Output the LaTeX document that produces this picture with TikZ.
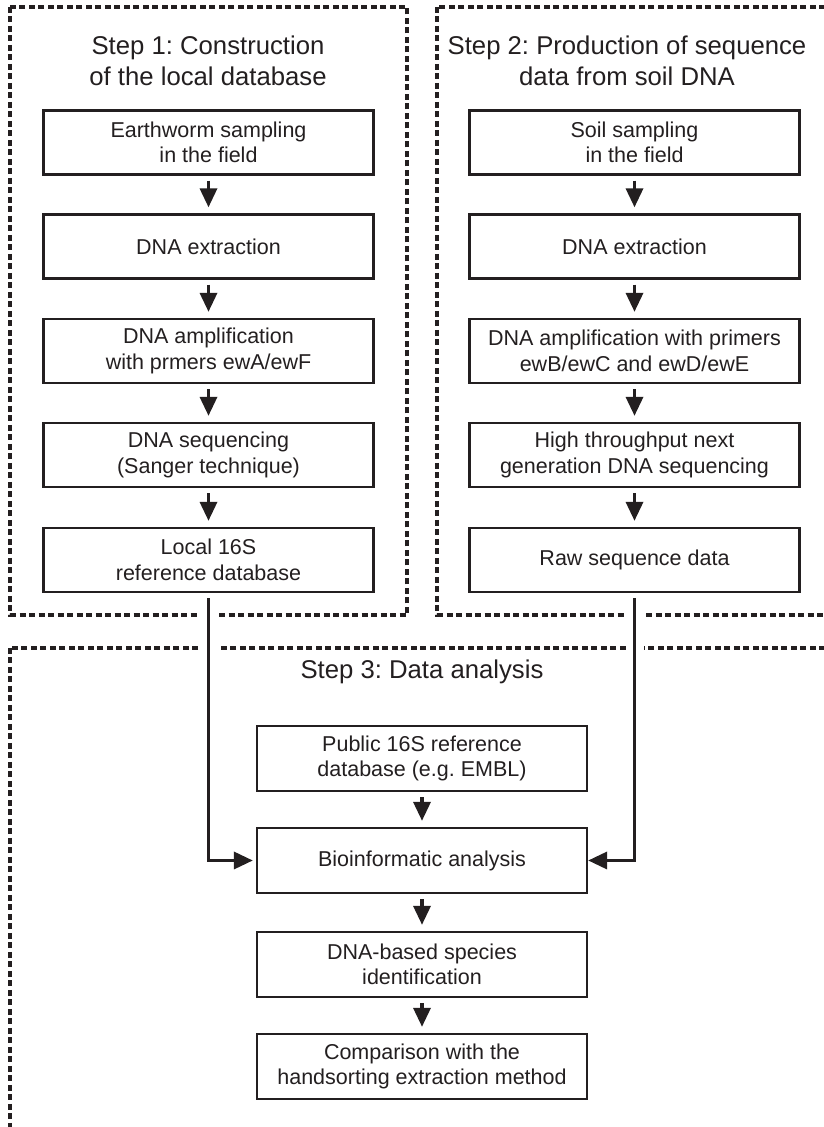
\documentclass[tikz,border=0pt]{standalone}
\usepackage{fontspec}
\setmainfont{Liberation Sans}
\usetikzlibrary{arrows.meta}
\definecolor{ink}{HTML}{231F20}
\frenchspacing
\begin{document}
\begin{tikzpicture}[x=1pt,y=1pt,
  frame/.style={draw=ink, line width=3.2pt, dash pattern=on 6pt off 3.5pt},
  stepbox/.style={draw=ink, line width=2.3pt, minimum width=330pt, minimum height=64pt, inner sep=0pt, align=center, text=ink, font=\fontsize{21.5}{25.5}\selectfont},
  title/.style={align=center, text=ink, font=\fontsize{25.7}{31.5}\selectfont},
  arr/.style={draw=ink, line width=3.4pt, line join=miter, -{Triangle[length=19pt,width=17pt]}},
  gapline/.style={draw=white, line width=18pt}]
\useasboundingbox (0,0) rectangle (824,1127);
\clip (0,0) rectangle (824,1127);
\fill[white] (0,0) rectangle (824,1127);
% frames
\draw[frame] (10,1120) rectangle (407,512);
\draw[frame] (437,1120) rectangle (840,512);
\draw[frame] (10,479) rectangle (840,-20);
% titles
\node[title] (t1) at (208,1066) {Step 1: Construction\\of the local database};
\node[title] (t2) at (627,1066) {Step 2: Production of sequence\\data from soil DNA};
\node[title] (t3) at (422,455) {Step 3: Data analysis};
% left column
\node[stepbox] (a1) at (208.5,984.5) {Earthworm sampling\\in the field};
\node[stepbox] (a2) at (208.5,880.5) {DNA extraction};
\node[stepbox] (a3) at (208.5,776) {DNA amplification\\with prmers ewA/ewF};
\node[stepbox] (a4) at (208.5,672) {DNA sequencing\\(Sanger technique)};
\node[stepbox] (a5) at (208.5,567) {Local 16S\\reference database};
% right column
\node[stepbox] (b1) at (634.5,984.5) {Soil sampling\\in the field};
\node[stepbox] (b2) at (634.5,880.5) {DNA extraction};
\node[stepbox] (b3) at (634.5,776) {DNA amplification with primers\\ewB/ewC and ewD/ewE};
\node[stepbox] (b4) at (634.5,672) {High throughput next\\generation DNA sequencing};
\node[stepbox] (b5) at (634.5,567) {Raw sequence data};
% step 3
\node[stepbox, minimum height=65pt] (c1) at (422,368.5) {Public 16S reference\\database (e.g. EMBL)};
\node[stepbox, minimum height=65pt] (c2) at (422,266.5) {Bioinformatic analysis};
\node[stepbox, minimum height=65pt] (c3) at (422,162.5) {DNA-based species\\identification};
\node[stepbox, minimum height=65pt] (c4) at (422,60.5) {Comparison with the\\handsorting extraction method};
% arrows
\foreach \p/\q in {a1/a2,a2/a3,a3/a4,a4/a5,b1/b2,b2/b3,b3/b4,b4/b5,c1/c2,c2/c3,c3/c4}
  \draw[arr, shorten <=5pt, shorten >=6pt] (\p.south) -- (\q.north);
% gaps in the dashed frames
\draw[gapline] ([yshift=-8pt]a5.south) -- ([yshift=-70pt]a5.south);
\draw[gapline] ([yshift=-8pt]b5.south) -- ([yshift=-70pt]b5.south);
% long connectors
\draw[arr, shorten <=5pt, shorten >=3pt] (a5.south) |- (c2.west);
\draw[arr, shorten <=5pt, shorten >=0pt] (b5.south) |- (c2.east);
\end{tikzpicture}
\end{document}
